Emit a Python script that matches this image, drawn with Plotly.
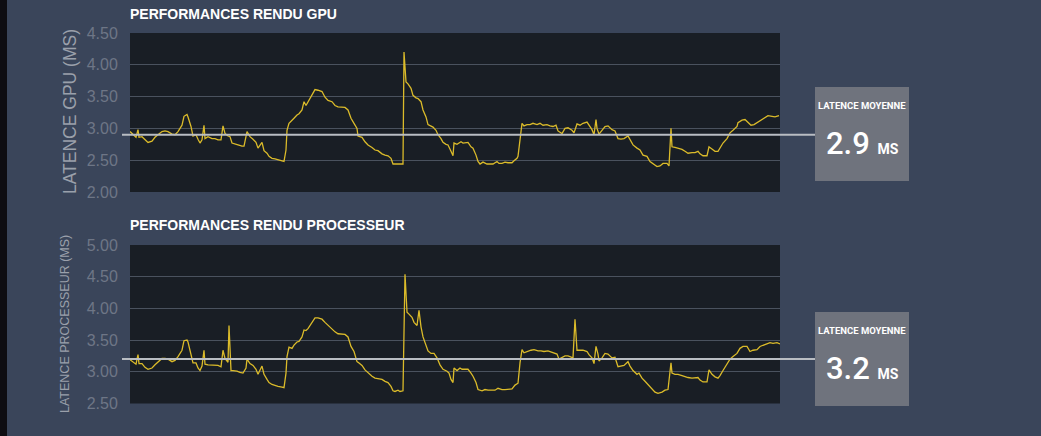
import plotly.graph_objects as go

# ---- data ----
gpu_frames = [0,3,6,8,9,12,15,18,22,25,28,32,35,38,42,45,48,52,54,57,58,61,63,66,68,70,72,74,75,78,82,85,88,91,93,95,98,100,102,105,108,112,114,117,120,123,126,128,132,134,137,139,142,145,148,152,154,156,157,159,162,164,167,169,172,174,176,178,182,185,188,192,195,198,202,205,208,212,
              215,218,221,224,227,228,232,235,238,242,245,248,250,252,255,258,261,263,267,270,273,274,276,278,281,283,286,288,291,293,296,298,301,303,306,308,311,313,316,318,321,323,324,327,329,331,333,336,338,341,343,346,348,350,353,357,360,363,367,369,372,375,378,382,384,387,388,390,392,394,397,400,403,407,410,413,417,420,423,426,428,432,
              435,438,442,444,447,450,453,457,459,462,464,466,467,469,472,475,478,482,485,488,491,494,498,500,503,507,510,513,517,520,523,527,530,533,537,539,541,542,545,548,552,555,558,562,565,568,570,573,577,579,582,585,588,590,593,597,600,603,607,608,612,615,618,621,624,628,632,635,638,642,645,649]
gpu_ms = [2.95,2.90,2.86,2.98,2.86,2.87,2.83,2.78,2.80,2.86,2.90,2.95,2.96,2.95,2.91,2.90,2.95,3.05,3.19,3.22,3.18,3.03,2.88,2.90,2.83,2.77,2.82,3.05,2.84,2.87,2.84,2.84,2.82,2.82,3.04,2.92,2.88,2.87,2.77,2.75,2.74,2.72,2.72,2.95,2.87,2.83,2.78,2.69,2.78,2.65,2.61,2.56,2.53,2.52,2.51,2.49,2.48,2.66,2.97,3.08,3.12,3.16,3.21,3.23,3.29,3.42,3.36,3.42,3.52,3.61,3.60,3.58,3.49,3.44,3.42,3.36,3.34,3.33,
          3.33,3.29,3.16,3.08,3.00,2.88,2.86,2.79,2.74,2.70,2.66,2.65,2.62,2.60,2.58,2.57,2.53,2.44,2.44,2.44,2.44,4.20,3.73,3.70,3.63,3.52,3.48,3.47,3.42,3.29,3.18,3.06,3.04,3.02,2.97,2.90,2.84,2.78,2.75,2.74,2.64,2.57,2.77,2.75,2.77,2.79,2.77,2.77,2.78,2.71,2.69,2.58,2.48,2.44,2.47,2.44,2.44,2.44,2.48,2.45,2.45,2.47,2.46,2.46,2.49,2.53,2.56,2.82,3.08,3.04,3.06,3.06,3.08,3.06,3.08,3.05,3.06,3.04,3.03,3.05,2.96,2.92,
          3.00,3.01,2.97,2.93,3.07,3.05,3.08,3.10,3.05,2.98,2.90,3.14,3.00,2.91,2.97,3.03,3.04,2.98,2.96,2.84,2.83,2.84,2.88,2.83,2.74,2.69,2.66,2.58,2.56,2.48,2.44,2.40,2.41,2.45,2.45,2.41,3.00,2.71,2.70,2.69,2.67,2.64,2.61,2.62,2.62,2.64,2.60,2.57,2.57,2.71,2.67,2.64,2.64,2.69,2.77,2.84,2.93,2.97,3.03,3.09,3.13,3.14,3.10,3.05,3.06,3.10,3.14,3.18,3.20,3.19,3.18,3.20]

cpu_frames = [0,3,6,8,9,12,15,18,22,25,28,32,35,38,42,45,48,52,54,57,58,61,63,66,68,70,72,74,75,78,82,85,88,91,93,95,98,99,101,103,107,110,113,116,117,120,123,126,128,132,134,137,139,142,145,148,152,154,156,157,159,162,164,167,169,172,174,176,178,182,185,188,192,195,198,202,205,208,212,
              215,218,221,224,227,229,232,235,238,242,245,248,252,255,258,261,263,265,268,270,273,275,277,279,282,284,287,289,291,293,296,298,301,304,307,310,313,317,319,321,323,324,327,330,332,335,338,341,343,346,348,352,355,358,362,365,368,372,375,378,382,385,388,390,392,394,398,401,404,408,411,414,418,421,424,427,429,432,
              435,438,441,443,445,447,450,453,457,459,462,464,466,468,469,472,475,478,482,485,488,491,494,498,500,503,507,509,512,515,518,522,525,528,532,535,538,541,542,545,548,552,555,558,562,565,568,570,573,577,579,582,585,588,590,593,597,600,603,607,610,613,617,620,623,627,630,633,637,640,643,647,650]
cpu_ms = [3.19,3.15,3.12,3.27,3.13,3.13,3.07,3.04,3.06,3.11,3.16,3.21,3.21,3.20,3.16,3.18,3.24,3.34,3.49,3.50,3.47,3.29,3.14,3.14,3.06,3.02,3.09,3.34,3.12,3.11,3.11,3.11,3.10,3.08,3.34,3.21,3.15,3.73,3.02,3.02,3.01,2.99,2.98,3.06,3.20,3.13,3.10,3.04,2.96,3.09,2.96,2.88,2.83,2.80,2.78,2.77,2.76,2.75,2.98,3.24,3.39,3.37,3.42,3.47,3.48,3.55,3.66,3.65,3.68,3.78,3.85,3.85,3.83,3.78,3.73,3.68,3.63,3.60,3.59,
          3.59,3.55,3.40,3.32,3.16,3.14,3.10,3.03,2.98,2.93,2.90,2.89,2.88,2.85,2.83,2.77,2.70,2.69,2.71,2.69,2.70,4.54,3.94,3.91,3.86,3.78,3.73,3.97,3.71,3.55,3.42,3.33,3.29,3.29,3.22,3.11,3.04,3.01,2.98,2.88,2.83,3.06,3.02,3.06,3.04,3.04,3.04,2.98,2.93,2.83,2.72,2.70,2.72,2.71,2.71,2.71,2.74,2.72,2.72,2.72,2.73,2.79,2.82,3.14,3.35,3.30,3.33,3.34,3.35,3.33,3.33,3.32,3.33,3.31,3.29,3.28,3.20,3.22,
          3.25,3.25,3.23,3.22,3.83,3.34,3.34,3.34,3.32,3.27,3.22,3.13,3.40,3.28,3.17,3.22,3.29,3.28,3.22,3.23,3.08,3.09,3.10,3.16,3.09,3.02,2.96,2.98,2.90,2.85,2.80,2.73,2.68,2.66,2.68,2.71,2.72,3.14,2.98,2.96,2.96,2.94,2.92,2.91,2.90,2.90,2.91,2.87,2.84,2.84,3.03,2.96,2.92,2.90,2.94,3.02,3.12,3.20,3.24,3.29,3.37,3.40,3.40,3.32,3.34,3.35,3.40,3.42,3.45,3.46,3.45,3.46,3.44]

gpu_ticks = [2.0, 2.5, 3.0, 3.5, 4.0, 4.5]
cpu_ticks = [2.5, 3.0, 3.5, 4.0, 4.5, 5.0]
gpu_avg = 2.9
cpu_avg = 3.2
titles = ["PERFORMANCES RENDU GPU", "PERFORMANCES RENDU PROCESSEUR"]
y_titles = ["LATENCE GPU (MS)", "LATENCE PROCESSEUR (MS)"]
box_label = "LATENCE MOYENNE"
unit = "MS"

# ---- layout geometry ----
W, H = 1041, 436
def px(x): return x / W
def py(y): return 1 - y / H

BG = "#3a455a"
PLOT_BG = "#191e25"
LINE = "#dbbb2a"
GRID = "#4a525e"
TICK = "#6e7686"
BOX = "#6f737d"
SANS = "Liberation Sans, Arial, sans-serif"
COND = "Roboto, sans-serif"

fig = go.Figure()
fig.add_trace(go.Scatter(x=gpu_frames, y=gpu_ms, mode="lines", xaxis="x", yaxis="y",
                         line=dict(color=LINE, width=1.3), hoverinfo="skip"))
fig.add_trace(go.Scatter(x=cpu_frames, y=cpu_ms, mode="lines", xaxis="x2", yaxis="y2",
                         line=dict(color=LINE, width=1.3), hoverinfo="skip"))

xdom = [px(130), px(780)]
common_x = dict(range=[0, 650], domain=xdom, visible=False, showgrid=False, zeroline=False,
                fixedrange=True, automargin=False)
common_y = dict(showgrid=True, gridcolor=GRID, gridwidth=1, zeroline=False, showline=False,
                tickformat=".2f", ticks="outside", ticklen=8, tickcolor="rgba(0,0,0,0)",
                tickfont=dict(family=SANS, size=16, color=TICK), fixedrange=True, automargin=False)

fig.update_layout(
    width=W, height=H, margin=dict(l=0, r=0, t=0, b=0, pad=0), autosize=False,
    paper_bgcolor=BG, plot_bgcolor=PLOT_BG, showlegend=False,
    xaxis=dict(**common_x, anchor="y"),
    xaxis2=dict(**common_x, anchor="y2"),
    yaxis=dict(**common_y, range=[2.0, 4.5], tickvals=gpu_ticks, domain=[py(192), py(33)], anchor="x"),
    yaxis2=dict(**common_y, range=[2.5, 5.0], tickvals=cpu_ticks, domain=[py(403.5), py(245)], anchor="x2"),
)

shapes = []
# left dark strip
shapes.append(dict(type="rect", xref="paper", yref="paper", x0=0, x1=px(7), y0=0, y1=1,
                   fillcolor="#0e0d12", line=dict(width=0), layer="below"))
# average lines
shapes.append(dict(type="line", xref="paper", yref="y", x0=px(122), x1=px(815), y0=gpu_avg, y1=gpu_avg,
                   line=dict(color="#b9bdc3", width=2)))
shapes.append(dict(type="line", xref="paper", yref="y2", x0=px(122), x1=px(815), y0=cpu_avg, y1=cpu_avg,
                   line=dict(color="#b9bdc3", width=2)))
# boxes
for (y0, y1) in [(87, 181), (312, 406)]:
    shapes.append(dict(type="rect", xref="paper", yref="paper", x0=px(815), x1=px(909), y0=py(y1), y1=py(y0),
                       fillcolor=BOX, line=dict(width=0)))
fig.update_layout(shapes=shapes)

ann = []
# chart titles
for t, y in zip(titles, [14, 225]):
    ann.append(dict(text=f"<b>{t}</b>", xref="paper", yref="paper", x=px(128), y=py(y), xanchor="left",
                    yanchor="middle", showarrow=False,
                    font=dict(family=SANS, size=14, color="#ffffff")))
# y titles
ann.append(dict(text=y_titles[0], xref="paper", yref="paper", x=px(70), y=py(112), textangle=-90,
                xanchor="center", yanchor="middle", showarrow=False,
                font=dict(family=SANS, size=17.5, color="#9aa0ab")))
ann.append(dict(text=y_titles[1], xref="paper", yref="paper", x=px(65), y=py(324), textangle=-90,
                xanchor="center", yanchor="middle", showarrow=False,
                font=dict(family=SANS, size=12.5, color="#9aa0ab")))
# box texts
for val, ytop in [(gpu_avg, 87), (cpu_avg, 312)]:
    ann.append(dict(text=f"<b>{box_label}</b>", xref="paper", yref="paper", x=px(862), y=py(ytop + 18),
                    xanchor="center", yanchor="middle", showarrow=False,
                    font=dict(family=COND, size=9.5, color="#ffffff")))
    ann.append(dict(text=f"{val:.1f} <span style='font-size:14px;font-weight:bold'>{unit}</span>",
                    xref="paper", yref="paper",
                    x=px(862), y=py(ytop + 56), xanchor="center", yanchor="middle", showarrow=False,
                    font=dict(family=COND, size=31, color="#ffffff", weight=500)))
fig.update_layout(annotations=ann)

fig.write_html("out.html", config={"displayModeBar": False},
               post_script="document.body.style.margin='0';document.body.style.overflow='hidden';")
